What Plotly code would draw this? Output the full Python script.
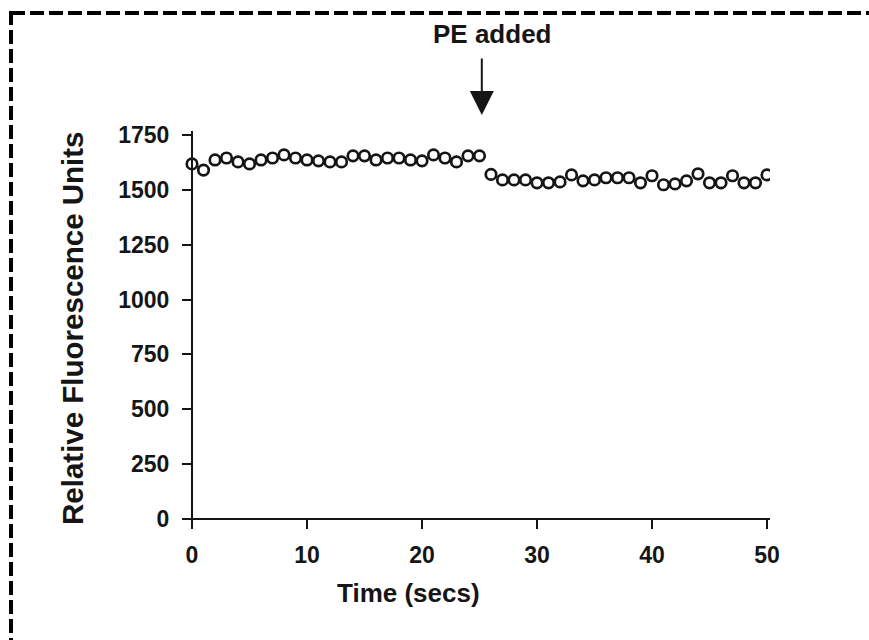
import plotly.graph_objects as go

# Fluorescence trace sampled once per second; PE is added at t = 25 s
time_secs = [0, 1, 2, 3, 4, 5, 6, 7, 8, 9, 10, 11, 12, 13, 14, 15, 16, 17,
             18, 19, 20, 21, 22, 23, 24, 25, 26, 27, 28, 29, 30, 31, 32, 33,
             34, 35, 36, 37, 38, 39, 40, 41, 42, 43, 44, 45, 46, 47, 48, 49, 50]
rfu = [1618, 1590, 1636, 1645, 1627, 1618, 1636, 1645, 1659, 1645, 1636,
       1632, 1627, 1627, 1655, 1655, 1636, 1645, 1645, 1636, 1632, 1659,
       1645, 1627, 1655, 1655, 1570, 1545, 1545, 1545, 1532, 1532, 1536,
       1568, 1541, 1545, 1555, 1555, 1555, 1532, 1564, 1523, 1527, 1541,
       1573, 1532, 1532, 1564, 1532, 1532, 1568]

x_ticks = [0, 10, 20, 30, 40, 50]
y_ticks = [0, 250, 500, 750, 1000, 1250, 1500, 1750]
event_time = 25
event_label = "PE added"
x_title = "Time (secs)"
y_title = "Relative Fluorescence Units"

INK = "#151515"
FONT = "Liberation Sans, Arial, sans-serif"

W, H = 869, 640
ML, MR, MT, MB = 182, 99, 131, 114
plot_w = W - ML - MR
plot_h = H - MT - MB

x_range = [-0.87, 50.26]
y_range = [-32, 1768]

# paper positions where the two axes cross at the data origin
x_axis_pos = (0 - y_range[0]) / (y_range[1] - y_range[0])
y_axis_pos = (0 - x_range[0]) / (x_range[1] - x_range[0])


def px_x(px):
    return (px - ML) / plot_w


def px_y(py):
    return (H - MB - py) / plot_h


fig = go.Figure()
fig.add_trace(go.Scatter(
    x=time_secs, y=rfu, mode="markers",
    marker=dict(symbol="circle-open", size=10.5, color=INK,
                line=dict(width=2.7, color=INK)),
    hoverinfo="x+y", showlegend=False,
))

axis_common = dict(
    showgrid=False, zeroline=False, showline=True, linecolor=INK,
    linewidth=2, ticks="outside", ticklen=9, tickwidth=2, tickcolor=INK,
    tickfont=dict(family=FONT, size=23, color=INK, weight="bold"),
    anchor="free",
)

fig.update_layout(
    width=W, height=H,
    margin=dict(l=ML, r=MR, t=MT, b=MB, autoexpand=False),
    paper_bgcolor="white", plot_bgcolor="white",
    xaxis=dict(range=x_range, tickvals=x_ticks, position=x_axis_pos,
               ticklabelstandoff=6, **axis_common),
    yaxis=dict(range=y_range, tickvals=y_ticks, position=y_axis_pos,
               ticklabelstandoff=8, **axis_common),
)

# axis titles
fig.add_annotation(
    x=px_x(408), xref="paper", y=px_y(593), yref="paper",
    text=f"<b>{x_title}</b>", showarrow=False,
    font=dict(family=FONT, size=26, color=INK),
    xanchor="center", yanchor="middle",
)
fig.add_annotation(
    x=px_x(72), xref="paper", y=px_y(328), yref="paper",
    text=f"<b>{y_title}</b>", showarrow=False, textangle=-90,
    font=dict(family=FONT, size=29.5, color=INK),
    xanchor="center", yanchor="middle",
)

# event marker: label plus a downward arrow pointing at the addition time
fig.add_annotation(
    x=px_x(492), xref="paper", y=px_y(34), yref="paper",
    text=f"<b>{event_label}</b>", showarrow=False,
    font=dict(family=FONT, size=26, color=INK),
    xanchor="center", yanchor="middle",
)
fig.add_annotation(
    x=event_time + 0.2, xref="x", y=px_y(115), yref="paper",
    ax=0, ay=-58, text="", showarrow=True,
    arrowhead=2, arrowsize=2.4, arrowwidth=2, arrowcolor=INK,
)

# dashed panel frame; its right and bottom edges fall outside the page
left_px, top_px = 11, 13
fig.add_shape(type="rect", xref="paper", yref="paper",
              x0=px_x(left_px), y0=px_y(top_px),
              x1=px_x(W + 30), y1=px_y(H + 30),
              line=dict(color="black", width=4, dash="14px,5px"),
              fillcolor="rgba(0,0,0,0)", layer="above")

fig.write_html("out.html")
